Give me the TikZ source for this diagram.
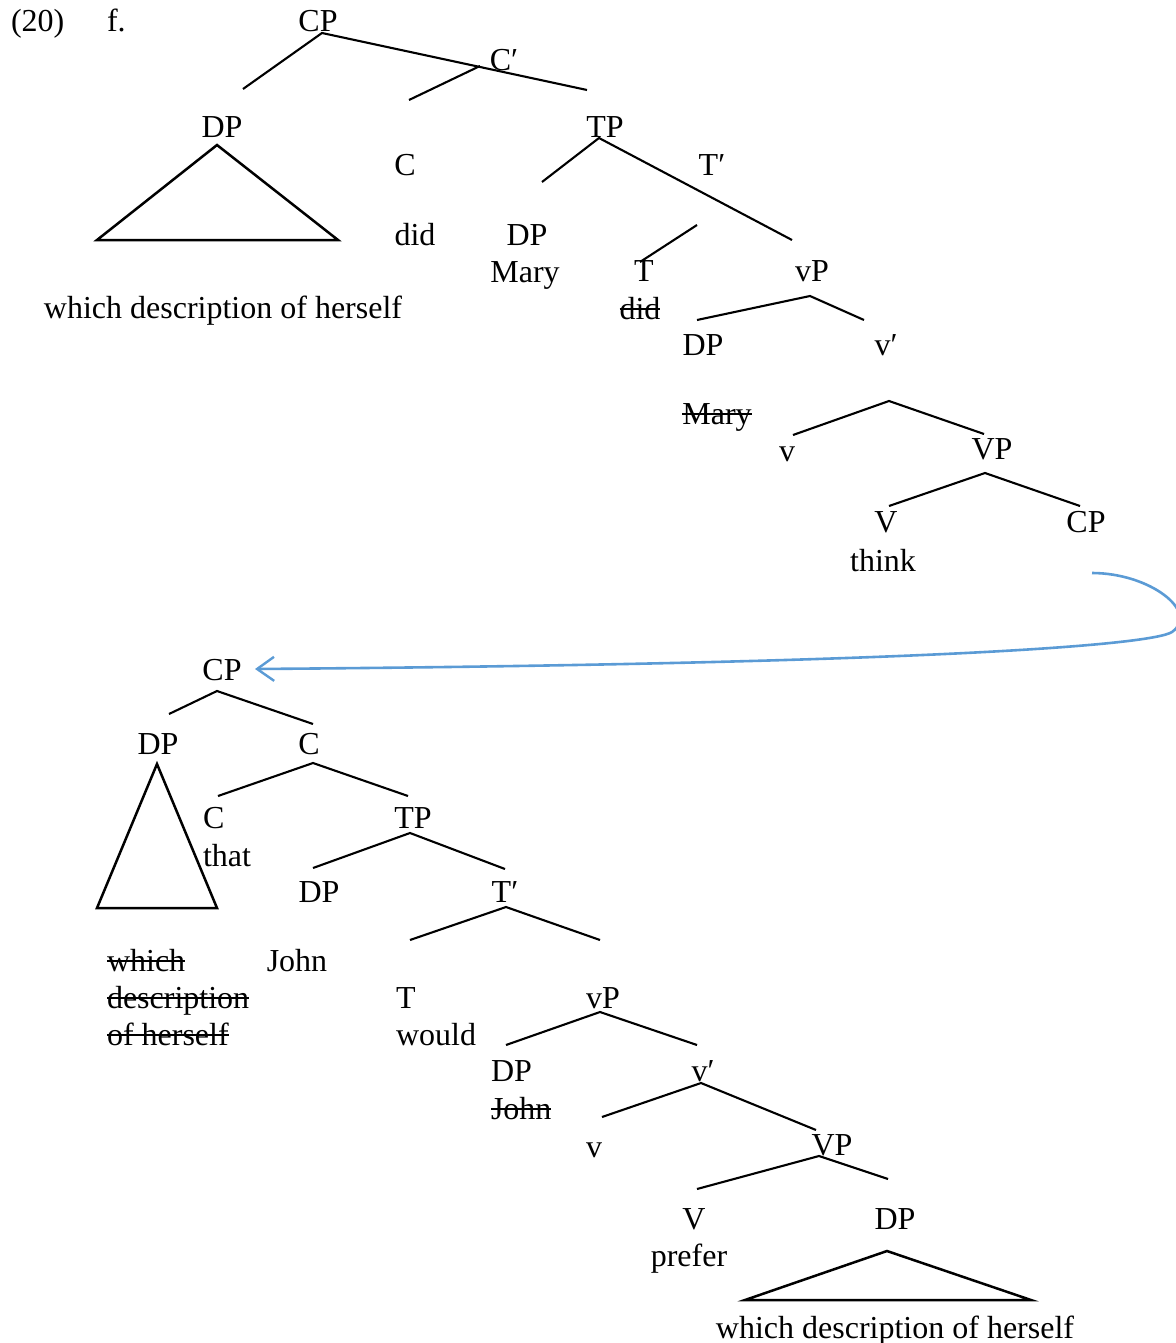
\documentclass[tikz,border=0pt]{standalone}
\usepackage{fontspec}
\setmainfont{Liberation Serif}
\usetikzlibrary{arrows.meta}
\definecolor{arrowblue}{RGB}{91,155,213}
\newcommand\lblfont{\fontsize{16}{19}\selectfont}
\newcommand\strk[1]{\setbox0=\hbox{#1}\rlap{\rule[0.27em]{\wd0}{0.065em}}\box0}
\begin{document}
\begin{tikzpicture}[x=0.5pt,y=-0.5pt,
  lbl/.style={inner sep=0pt,outer sep=0pt,anchor=base,font=\lblfont},
  lblw/.style={lbl,anchor=base west},
  branch/.style={line width=1.05pt},
  roof/.style={line width=1.25pt,line join=miter},
  move/.style={draw=arrowblue,line width=1.3pt,-{Straight Barb[length=8.5pt,width=12pt,line width=1.2pt]}}]
\useasboundingbox (0,0) rectangle (1176,1343);
% ---------- upper tree: labels ----------
\node[lblw] (ex) at (11,32) {(20)};
\node[lblw] (exf) at (107,32) {f.};
\node[lbl] (cpA) at (318,32) {CP};
\node[lbl] (cbarA) at (504,71) {C′};
\node[lbl] (dpA) at (222,137) {DP};
\node[lbl] (tpA) at (605,137) {TP};
\node[lbl] (cA) at (405,175) {C};
\node[lbl] (tbarA) at (712,175) {T′};
\node[lbl] (didA) at (415,245) {did};
\node[lbl] (dpB) at (527,245) {DP};
\node[lbl] (maryA) at (525,282) {Mary};
\node[lbl] (tA) at (644,281) {T};
\node[lbl] (vpA) at (812,281) {vP};
\node[lbl] (whA) at (223,318) {which description of herself};
\node[lbl] (didB) at (640,319) {\strk{did}};
\node[lbl] (dpC) at (703,355) {DP};
\node[lbl] (vbarA) at (886,355) {v′};
\node[lbl] (maryB) at (717,424) {\strk{Mary}};
\node[lbl] (vA) at (787,461) {v};
\node[lbl] (VPA) at (992,459) {VP};
\node[lbl] (VA) at (886,532) {V};
\node[lbl] (cpB) at (1086,532) {CP};
\node[lbl] (thinkA) at (883,571) {think};
% ---------- upper tree: branch ends ----------
\coordinate (a1) at (322,33);  \coordinate (a1l) at (243,89);  \coordinate (a1r) at (587,90);
\coordinate (a2) at (480,66);  \coordinate (a2l) at (409,100);
\coordinate (a3) at (599,138); \coordinate (a3l) at (542,182); \coordinate (a3r) at (792,240);
\coordinate (a4) at (697,225); \coordinate (a4l) at (640,262);
\coordinate (a5) at (810,296); \coordinate (a5l) at (697,320); \coordinate (a5r) at (864,320);
\coordinate (a6) at (889,401); \coordinate (a6l) at (793,435); \coordinate (a6r) at (984,434);
\coordinate (a7) at (985,473); \coordinate (a7l) at (889,506); \coordinate (a7r) at (1080,506);
\coordinate (ta) at (217,145); \coordinate (tal) at (97,240); \coordinate (tar) at (338,240);
\draw[branch] (a1l) -- (a1) -- (a1r);
\draw[branch] (a2) -- (a2l);
\draw[branch] (a3l) -- (a3) -- (a3r);
\draw[branch] (a4) -- (a4l);
\draw[branch] (a5l) -- (a5) -- (a5r);
\draw[branch] (a6l) -- (a6) -- (a6r);
\draw[branch] (a7l) -- (a7) -- (a7r);
\draw[roof] (ta) -- (tal) -- (tar) -- cycle;
% ---------- lower tree: labels ----------
\node[lbl] (cpC) at (222,680) {CP};
\node[lbl] (dpD) at (158,754) {DP};
\node[lbl] (cB) at (309,754) {C};
\node[lblw] (cC) at (203,828) {C};
\node[lblw] (thatA) at (203,866) {that};
\node[lbl] (tpB) at (413,828) {TP};
\node[lbl] (dpE) at (319,902) {DP};
\node[lbl] (tbarB) at (505,902) {T′};
\node[lblw] (whB1) at (107,971) {\strk{which}};
\node[lblw] (whB2) at (107,1008) {\strk{description}};
\node[lblw] (whB3) at (107,1045) {\strk{of herself}};
\node[lbl] (johnA) at (297,971) {John};
\node[lblw] (tB) at (396,1008) {T};
\node[lblw] (wouldA) at (396,1045) {would};
\node[lbl] (vpB) at (603,1008) {vP};
\node[lblw] (dpF) at (491,1081) {DP};
\node[lblw] (johnB) at (491,1119) {\strk{John}};
\node[lbl] (vbarB) at (703,1081) {v′};
\node[lbl] (vB) at (594,1157) {v};
\node[lbl] (VPB) at (832,1155) {VP};
\node[lbl] (VB) at (694,1229) {V};
\node[lbl] (dpG) at (895,1229) {DP};
\node[lbl] (preferA) at (689,1266) {prefer};
\node[lbl] (whC) at (895,1338) {which description of herself};
% ---------- lower tree: branch ends ----------
\coordinate (b1) at (217,691);  \coordinate (b1l) at (169,714);  \coordinate (b1r) at (313,724);
\coordinate (b2) at (313,763);  \coordinate (b2l) at (218,796);  \coordinate (b2r) at (408,796);
\coordinate (b3) at (410,833);  \coordinate (b3l) at (313,868);  \coordinate (b3r) at (505,869);
\coordinate (b4) at (506,907);  \coordinate (b4l) at (410,940);  \coordinate (b4r) at (600,940);
\coordinate (b5) at (600,1012); \coordinate (b5l) at (506,1045); \coordinate (b5r) at (697,1045);
\coordinate (b6) at (701,1083); \coordinate (b6l) at (602,1117); \coordinate (b6r) at (816,1130);
\coordinate (b7) at (819,1156); \coordinate (b7l) at (697,1189); \coordinate (b7r) at (888,1179);
\coordinate (tb) at (157,764); \coordinate (tbl) at (97,908); \coordinate (tbr) at (217,908);
\coordinate (tc) at (887,1251); \coordinate (tcl) at (745,1300); \coordinate (tcr) at (1031,1300);
\draw[branch] (b1l) -- (b1) -- (b1r);
\draw[branch] (b2l) -- (b2) -- (b2r);
\draw[branch] (b3l) -- (b3) -- (b3r);
\draw[branch] (b4l) -- (b4) -- (b4r);
\draw[branch] (b5l) -- (b5) -- (b5r);
\draw[branch] (b6l) -- (b6) -- (b6r);
\draw[branch] (b7l) -- (b7) -- (b7r);
\draw[roof] (tb) -- (tbl) -- (tbr) -- cycle;
\draw[roof] (tc) -- (tcl) -- (tcr) -- cycle;
% ---------- movement arrow ----------
\coordinate (arrS) at (1092,573);
\coordinate (arrM) at (1172,632);
\coordinate (arrE) at (255,669);
\draw[move] (arrS) .. controls (1150,573) and (1200,612) .. (arrM)
  .. controls (1150,646) and (900,664) .. (arrE);
\end{tikzpicture}
\end{document}
